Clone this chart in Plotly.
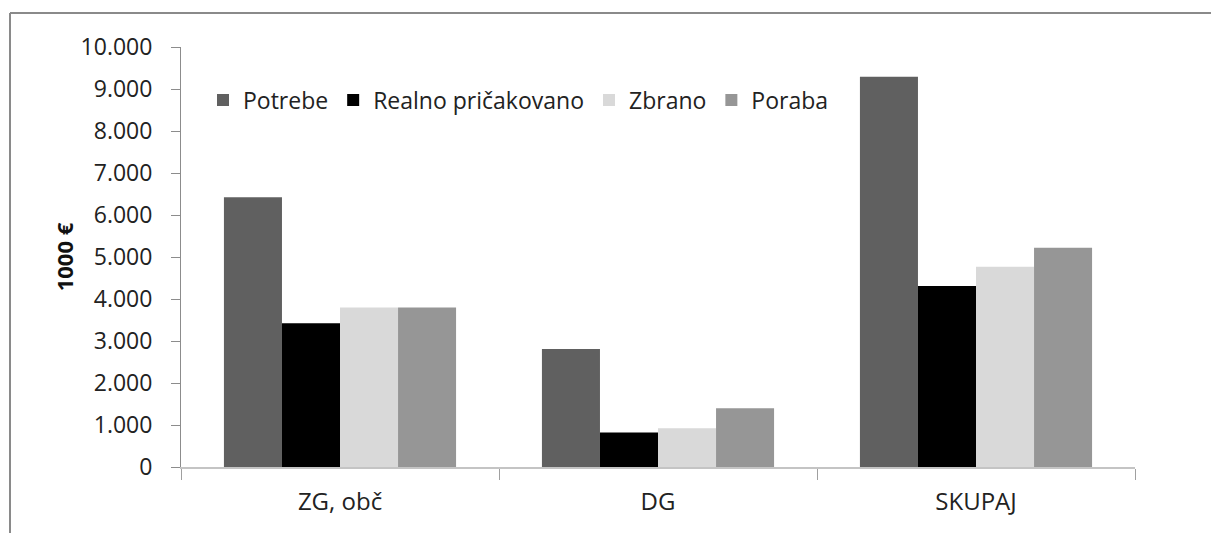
import plotly.graph_objects as go

categories = ["ZG, obč", "DG", "SKUPAJ"]
series_names = ["Potrebe", "Realno pričakovano", "Zbrano", "Poraba"]
potrebe = [6420, 2810, 9290]
realno = [3420, 820, 4310]
zbrano = [3800, 920, 4770]
poraba = [3800, 1400, 5220]
colors = ["#606060", "#000000", "#d9d9d9", "#969696"]
y_ticks = [0, 1000, 2000, 3000, 4000, 5000, 6000, 7000, 8000, 9000, 10000]

W, H = 1211, 533
L, R, T, B = 181, 76, 47, 66
FONT = "Open Sans, Liberation Sans, sans-serif"

fig = go.Figure()
for name, vals, col in zip(series_names, [potrebe, realno, zbrano, poraba], colors):
    fig.add_trace(go.Bar(x=categories, y=vals, name=name,
                         marker=dict(color=col, line=dict(width=0))))

pw = W - L - R
ph = H - T - B
def px_x(p):
    return (p - L) / pw
def px_y(p):
    return (H - B - p) / ph

fig.update_layout(
    width=W, height=H,
    margin=dict(l=L, r=R, t=T, b=B, autoexpand=False),
    paper_bgcolor="white", plot_bgcolor="white",
    separators=",.",
    barmode="group", bargap=0.27, bargroupgap=0,
    font=dict(family=FONT, size=23, color="#222222"),
    showlegend=True,
    legend=dict(orientation="h", x=px_x(203), xanchor="left",
                y=px_y(100), yanchor="middle",
                bgcolor="rgba(0,0,0,0)", font=dict(size=23, color="#222222"),
                traceorder="normal", itemclick=False),
    xaxis=dict(showline=True, linecolor="#c4c4c4", linewidth=2,
               ticks="outside", tickson="boundaries", ticklen=11,
               tickcolor="#a0a0a0", tickwidth=1, showgrid=False,
               ticklabelstandoff=12, tickfont=dict(size=24, color="#222222")),
    yaxis=dict(range=[0, 10000], tickvals=y_ticks, tickformat=",.0f",
               showline=True, linecolor="#8c8c8c", linewidth=1,
               ticks="outside", ticklen=9, tickcolor="#8c8c8c",
               showgrid=False, zeroline=False, ticklabelstandoff=14,
               automargin=False,
               tickfont=dict(size=23, color="#222222"),
               title=dict(text="<b>1000 €</b>", font=dict(size=22, color="#111111"),
                          standoff=0)),
    shapes=[
        dict(type="line", xref="paper", yref="paper",
             x0=px_x(10), x1=px_x(1215), y0=px_y(13), y1=px_y(13),
             line=dict(color="#8a8a8a", width=2)),
        dict(type="line", xref="paper", yref="paper",
             x0=px_x(10), x1=px_x(10), y0=px_y(13), y1=px_y(540),
             line=dict(color="#8a8a8a", width=2)),
    ],
)

fig.write_html("out.html", config={"displayModeBar": False},
               post_script="document.body.style.margin='0px';")
